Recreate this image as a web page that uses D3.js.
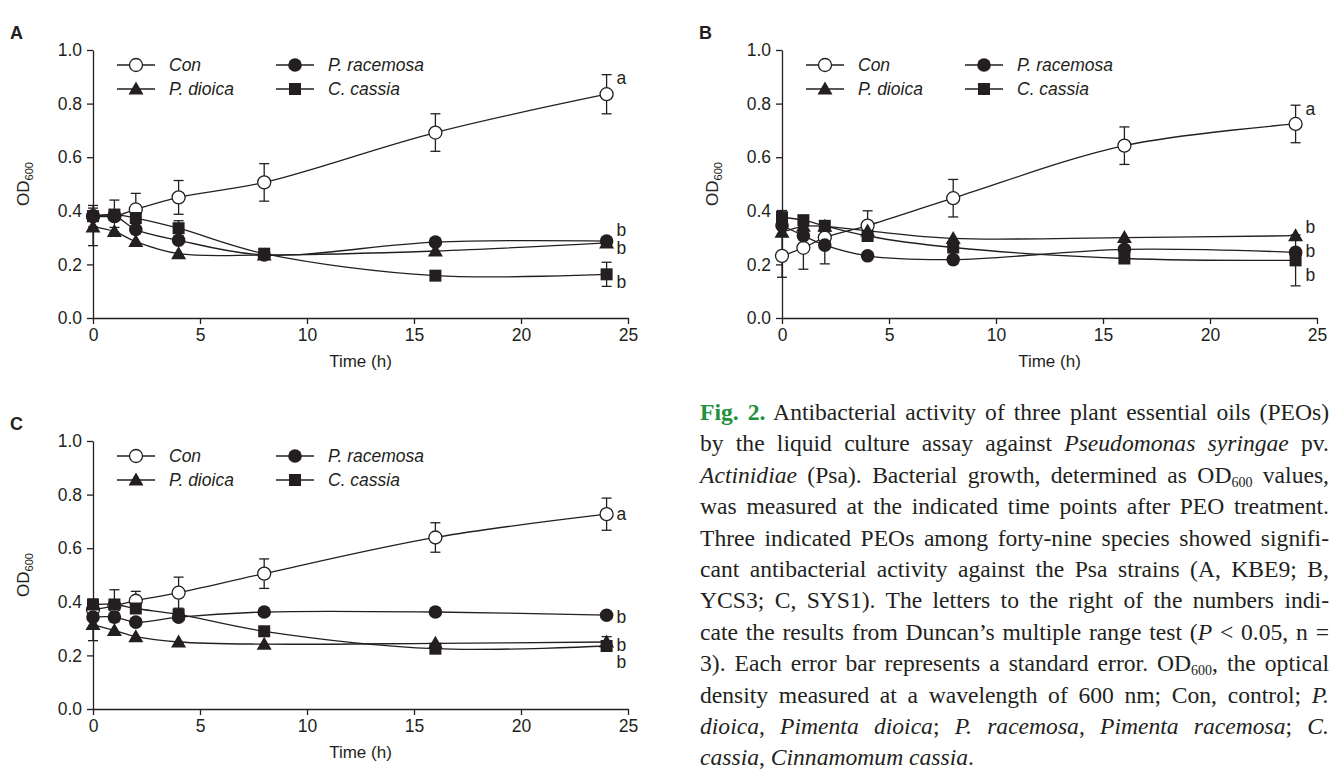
<!DOCTYPE html>
<html><head><meta charset="utf-8">
<script src="https://cdn.jsdelivr.net/npm/d3@7"></script>
<style>
html,body{margin:0;padding:0;background:#fff;overflow:hidden;width:1331px;height:774px;}
#chart{position:absolute;left:0;top:0;}
#cap{position:absolute;left:700px;top:397px;width:629px;font-family:"Liberation Serif","Times New Roman",serif;font-size:23.6px;line-height:31.4px;color:#231f20;}
#cap div{white-space:nowrap;text-align:justify;text-align-last:justify;}
#cap div.last{text-align-last:left;}
.fig{color:#23903c;font-weight:bold;}
#cap sub{font-size:14px;vertical-align:-4px;line-height:0;}
</style></head><body>
<svg id="chart" width="1331" height="774"></svg>
<div id="cap">
<div><span class="fig">Fig. 2.</span> Antibacterial activity of three plant essential oils (PEOs)</div>
<div>by the liquid culture assay against <i>Pseudomonas syringae</i> pv.</div>
<div><i>Actinidiae</i> (Psa). Bacterial growth, determined as OD<sub>600</sub> values,</div>
<div>was measured at the indicated time points after PEO treatment.</div>
<div>Three indicated PEOs among forty-nine species showed signifi-</div>
<div>cant antibacterial activity against the Psa strains (A, KBE9; B,</div>
<div>YCS3; C, SYS1). The letters to the right of the numbers indi-</div>
<div>cate the results from Duncan’s multiple range test (<i>P</i> &lt; 0.05, n =</div>
<div>3). Each error bar represents a standard error. OD<sub>600</sub>, the optical</div>
<div>density measured at a wavelength of 600 nm; Con, control; <i>P.</i></div>
<div><i>dioica</i>, <i>Pimenta dioica</i>; <i>P. racemosa</i>, <i>Pimenta racemosa</i>; <i>C.</i></div>
<div class="last"><i>cassia</i>, <i>Cinnamomum cassia</i>.</div>
</div>
<script>
// ---------- data ----------
const times = [0, 1, 2, 4, 8, 16, 24];
const seriesNames = ["Con", "P. racemosa", "P. dioica", "C. cassia"];
const xTicks = [0, 5, 10, 15, 20, 25];
const yTicks = [0, 0.2, 0.4, 0.6, 0.8, 1.0];

// Panel A (KBE9)
const aCon    = [0.38, 0.38, 0.405, 0.45, 0.506, 0.692, 0.835];
const aConErr = [0.04, 0.06, 0.06, 0.063, 0.07, 0.07, 0.073];
const aRac    = [0.38, 0.38, 0.33, 0.29, 0.235, 0.283, 0.287];
const aRacErr = [0, 0, 0, 0, 0, 0, 0];
const aDio    = [0.34, 0.323, 0.285, 0.24, 0.235, 0.25, 0.28];
const aDioErr = [0.07, 0.015, 0, 0, 0, 0, 0];
const aCas    = [0.38, 0.386, 0.373, 0.335, 0.24, 0.158, 0.163];
const aCasErr = [0, 0, 0, 0.028, 0, 0, 0.045];
const aLetters = ["a", "b", "b", "b"];
const aLetterVals = [0.896, 0.329, 0.263, 0.133];

// Panel B (YCS3)
const bCon    = [0.232, 0.262, 0.30, 0.345, 0.447, 0.643, 0.724];
const bConErr = [0.08, 0.08, 0, 0.055, 0.07, 0.07, 0.07];
const bRac    = [0.345, 0.307, 0.272, 0.232, 0.218, 0.256, 0.245];
const bRacErr = [0, 0, 0.07, 0, 0, 0, 0];
const bDio    = [0.32, 0.342, 0.342, 0.325, 0.297, 0.30, 0.307];
const bDioErr = [0, 0, 0, 0, 0, 0, 0];
const bCas    = [0.376, 0.365, 0.344, 0.306, 0.263, 0.222, 0.215];
const bCasErr = [0.025, 0, 0, 0, 0, 0, 0.095];
const bLetters = ["a", "b", "b", "b"];
const bLetterVals = [0.782, 0.339, 0.25, 0.162];

// Panel C (SYS1)
const cCon    = [0.37, 0.385, 0.404, 0.434, 0.505, 0.64, 0.727];
const cConErr = [0.04, 0.06, 0.035, 0.058, 0.055, 0.055, 0.06];
const cRac    = [0.343, 0.343, 0.324, 0.343, 0.362, 0.362, 0.35];
const cRacErr = [0, 0, 0, 0, 0, 0, 0];
const cDio    = [0.315, 0.293, 0.27, 0.25, 0.242, 0.245, 0.25];
const cDioErr = [0.06, 0, 0, 0, 0, 0, 0.02];
const cCas    = [0.39, 0.39, 0.375, 0.353, 0.29, 0.225, 0.235];
const cCasErr = [0, 0, 0, 0, 0, 0, 0];
const cLetters = ["a", "b", "b", "b"];
const cLetterVals = [0.727, 0.345, 0.241, 0.174];

// ---------- layout ----------
const markerTypes = ["openCircle", "circle", "triangle", "square"];
const drawOrder = [0, 3, 2, 1]; // control underneath, racemosa on top
const W = 535, H = 268;
const panels = [
  {label: "A", left: 93,  top: 50,  vals: [aCon, aRac, aDio, aCas], errs: [aConErr, aRacErr, aDioErr, aCasErr], letters: aLetters, letterVals: aLetterVals},
  {label: "B", left: 782, top: 50,  vals: [bCon, bRac, bDio, bCas], errs: [bConErr, bRacErr, bDioErr, bCasErr], letters: bLetters, letterVals: bLetterVals},
  {label: "C", left: 93,  top: 441, vals: [cCon, cRac, cDio, cCas], errs: [cConErr, cRacErr, cDioErr, cCasErr], letters: cLetters, letterVals: cLetterVals}
];

const FONT = "'Liberation Sans', Arial, Helvetica, sans-serif";
const INK = "#231f20";
const svg = d3.select("#chart");
svg.append("rect").attr("width", 1331).attr("height", 774).attr("fill", "#fff");

function drawMarker(g, type, cx, cy) {
  if (type === "openCircle") {
    g.append("circle").attr("cx", cx).attr("cy", cy).attr("r", 6.5)
      .attr("fill", "#fff").attr("stroke", INK).attr("stroke-width", 1.3);
  } else if (type === "circle") {
    g.append("circle").attr("cx", cx).attr("cy", cy).attr("r", 6.8).attr("fill", INK);
  } else if (type === "square") {
    g.append("rect").attr("x", cx - 6).attr("y", cy - 6).attr("width", 12).attr("height", 12).attr("fill", INK);
  } else {
    g.append("path").attr("d", `M${cx},${cy - 7.5}L${cx + 7.5},${cy + 5.5}L${cx - 7.5},${cy + 5.5}Z`).attr("fill", INK);
  }
}

panels.forEach(p => {
  const g = svg.append("g").attr("transform", `translate(${p.left},${p.top})`);
  const x = d3.scaleLinear().domain([0, 25]).range([0, W]);
  const y = d3.scaleLinear().domain([0, 1]).range([H, 0]);

  // axes
  const xa = g.append("g").attr("transform", `translate(0,${H})`)
    .call(d3.axisBottom(x).tickValues(xTicks).tickSize(6).tickSizeOuter(0).tickPadding(5).tickFormat(d3.format("d")));
  const ya = g.append("g")
    .call(d3.axisLeft(y).tickValues(yTicks).tickSize(6).tickSizeOuter(0).tickPadding(5).tickFormat(d3.format(".1f")));
  [xa, ya].forEach(a => {
    a.selectAll("path,line").attr("stroke", INK).attr("stroke-width", 1.3);
    a.selectAll("text").attr("font-family", FONT).attr("font-size", 17.5).attr("fill", INK);
  });

  // axis titles
  g.append("text").attr("x", W / 2).attr("y", H + 49).attr("text-anchor", "middle")
    .attr("font-family", FONT).attr("font-size", 17).attr("fill", INK).text("Time (h)");
  const yt = g.append("text").attr("transform", `translate(-64,${H / 2}) rotate(-90)`)
    .attr("text-anchor", "middle").attr("font-family", FONT).attr("font-size", 17).attr("fill", INK);
  yt.append("tspan").text("OD");
  yt.append("tspan").attr("font-size", 11).attr("dy", 4).text("600");

  // panel label
  svg.append("text").attr("x", p.left - 83).attr("y", p.top - 11)
    .attr("font-family", FONT).attr("font-weight", "bold").attr("font-size", 18).attr("fill", INK).text(p.label);

  const line = d3.line().x((d, i) => x(times[i])).y(d => y(d)).curve(d3.curveCatmullRom.alpha(0.5));

  // lines
  p.vals.forEach(v => {
    g.append("path").attr("d", line(v)).attr("fill", "none").attr("stroke", INK).attr("stroke-width", 1.3);
  });
  // error bars
  p.vals.forEach((v, si) => {
    v.forEach((d, i) => {
      const e = p.errs[si][i];
      if (!e) return;
      const cx = x(times[i]);
      g.append("line").attr("x1", cx).attr("x2", cx).attr("y1", y(d + e)).attr("y2", y(d - e)).attr("stroke", INK).attr("stroke-width", 1.3);
      [d + e, d - e].forEach(t => g.append("line").attr("x1", cx - 5).attr("x2", cx + 5).attr("y1", y(t)).attr("y2", y(t)).attr("stroke", INK).attr("stroke-width", 1.3));
    });
  });
  // markers
  drawOrder.forEach(si => {
    p.vals[si].forEach((d, i) => drawMarker(g, markerTypes[si], x(times[i]), y(d)));
  });

  // significance letters
  p.letters.forEach((l, i) => {
    g.append("text").attr("x", x(24) + 10).attr("y", y(p.letterVals[i])).attr("dy", "0.35em")
      .attr("font-family", FONT).attr("font-size", 17.5).attr("fill", INK).text(l);
  });

  // legend
  const cols = [24, 183], rows = [15, 39];
  [0, 1, 2, 3].forEach((si, k) => {
    const lx = cols[k % 2], ly = rows[Math.floor(k / 2)];
    const lg = g.append("g");
    lg.append("line").attr("x1", lx).attr("x2", lx + 38).attr("y1", ly).attr("y2", ly).attr("stroke", INK).attr("stroke-width", 1.3);
    drawMarker(lg, markerTypes[si], lx + 19, ly);
    lg.append("text").attr("x", lx + 52).attr("y", ly).attr("dy", "0.35em")
      .attr("font-family", FONT).attr("font-style", "italic").attr("font-size", 17.5).attr("fill", INK).text(seriesNames[si]);
  });
});
</script>
</body></html>
